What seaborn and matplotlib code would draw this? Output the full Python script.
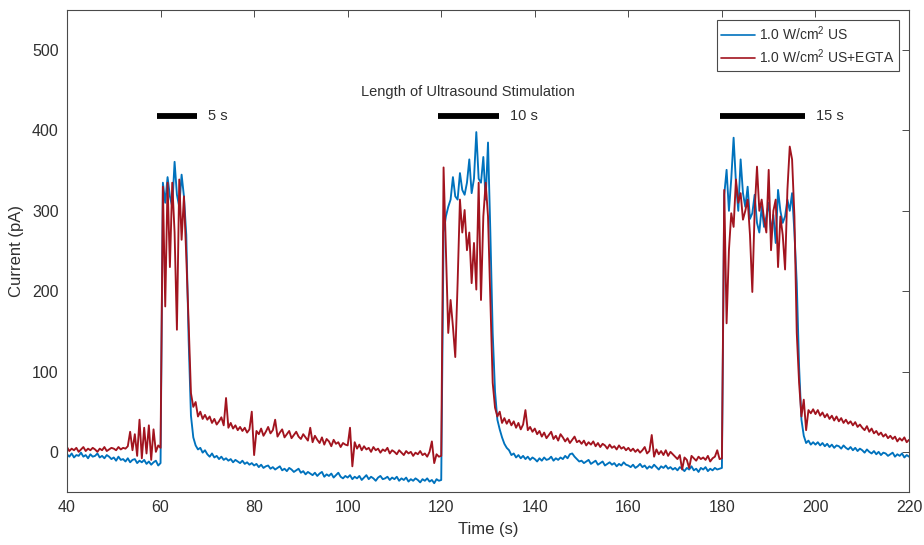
import numpy as np
import pandas as pd
import matplotlib
matplotlib.use("Agg")
import matplotlib.pyplot as plt
import seaborn as sns

# ---------------- data ----------------
time_s = np.round(np.arange(40, 220.001, 0.5), 1)

us = [
    -3, -6, -2, -7, -4, -5, -1, -6, -4, -8, -3, -6, -5, -2, -7, -5, -8, -4, -6, -9,
    -7, -11, -6, -10, -9, -12, -8, -13, -10, -9, -14, -11, -13, -10, -15, -12, -16, -13, -11, -17,
    -14, 335, 310, 342, 318, 305, 361, 320, 305, 345, 318, 270, 140, 45, 18, 8, 3, 5, -1, 2,
    -3, -6, -2, -7, -5, -9, -6, -10, -8, -11, -9, -13, -10, -12, -14, -11, -15, -13, -16, -14,
    -17, -15, -19, -16, -20, -18, -17, -21, -19, -22, -20, -18, -23, -21, -24, -20, -22, -25, -23, -21,
    -26, -24, -28, -25, -27, -29, -26, -30, -27, -25, -31, -28, -30, -27, -32, -29, -26, -31, -33, -30,
    -32, -29, -34, -31, -33, -30, -35, -32, -29, -34, -31, -33, -36, -32, -30, -34, -33, -31, -35, -32,
    -34, -31, -36, -33, -35, -32, -37, -34, -36, -33, -35, -38, -34, -36, -33, -37, -35, -39, -34, -36,
    -35, 273, 293, 305, 314, 342, 318, 314, 347, 326, 320, 335, 364, 322, 340, 398, 340, 335, 367, 314,
    385, 273, 148, 75, 40, 28, 18, 10, 5, 2, -4, -2, -7, -4, -8, -5, -9, -6, -10, -7,
    -9, -12, -8, -11, -7, -10, -9, -6, -11, -8, -10, -7, -9, -5, -8, -3, -2, -6, -9, -12,
    -11, -14, -12, -10, -15, -13, -11, -16, -14, -12, -17, -15, -13, -16, -14, -18, -15, -17, -13, -16,
    -17, -19, -16, -20, -18, -15, -19, -17, -21, -18, -20, -16, -19, -22, -18, -20, -17, -21, -19, -22,
    -20, -23, -19, -21, -24, -20, -22, -18, -23, -21, -25, -20, -22, -19, -24, -21, -23, -20, -22, -21,
    -20, 320, 351, 300, 340, 391, 335, 300, 364, 322, 305, 330, 290, 297, 320, 285, 273, 305, 280, 293,
    310, 273, 295, 260, 326, 300, 285, 293, 314, 300, 322, 273, 210, 106, 40, 20, 11, 14, 9, 12,
    9, 12, 8, 11, 7, 10, 6, 9, 5, 8, 7, 4, 8, 5, 3, 6, 2, 5, 1, 4,
    2, -1, 3, 0, -2, 1, -3, 0, -4, -1, -2, -5, -3, -1, -6, -3, -5, -2, -7, -4,
    -6,
]

egta = [
    6, 1, 4, 2, 5, 0, 3, 6, 1, 4, 2, 5, 3, 0, 4, 2, 6, 1, 3, 5,
    4, 2, 6, 3, 5, 4, 7, 25, 2, 22, -5, 40, -8, 30, -2, 33, -10, 28, 0, 8,
    5, 330, 181, 335, 230, 335, 273, 152, 339, 264, 318, 243, 161, 73, 56, 62, 44, 50, 41, 46,
    40, 44, 36, 41, 34, 38, 43, 33, 67, 30, 36, 29, 33, 27, 31, 26, 30, 24, 28, 50,
    -4, 26, 22, 29, 20, 25, 31, 23, 27, 40, 19, 24, 28, 18, 22, 26, 17, 21, 25, 19,
    16, 22, 18, 14, 30, 12, 20, 15, 11, 18, 9, 16, 13, 7, 15, 10, 12, 6, 11, 9,
    8, 30, -18, 12, 4, 9, 2, 7, 3, 5, 0, 6, 2, 4, -1, 3, 1, 5, -2, 2,
    0, -3, 2, -1, -4, 1, -2, 0, -5, -1, -3, 1, -4, -2, -6, 0, 13, -14, -3, -6,
    -5, 354, 251, 148, 189, 156, 118, 210, 314, 273, 301, 251, 273, 210, 260, 202, 335, 189, 293, 335,
    293, 189, 86, 55, 44, 50, 36, 42, 35, 40, 33, 38, 30, 36, 28, 34, 52, 27, 31, 25,
    29, 22, 26, 19, 24, 17, 21, 25, 16, 20, 14, 22, 18, 13, 17, 11, 15, 19, 12, 14,
    10, 14, 8, 12, 9, 13, 7, 11, 6, 10, 8, 4, 9, 5, 7, 3, 8, 4, 6, 2,
    5, 1, 4, 0, 3, -1, 2, 6, -2, 1, 21, -6, 3, -3, 1, -4, 2, -5, 0, -3,
    -6, -9, -4, -22, -7, -10, -20, -5, -8, -11, -6, -9, -7, -10, -5, -12, -8, -6, 2, -9,
    -8, 326, 160, 251, 297, 280, 339, 310, 322, 289, 300, 314, 270, 199, 300, 355, 300, 314, 290, 273,
    351, 251, 300, 314, 230, 293, 270, 227, 326, 380, 364, 293, 148, 86, 44, 65, 27, 52, 48, 53,
    47, 52, 45, 49, 43, 47, 41, 45, 39, 44, 38, 42, 36, 40, 35, 38, 33, 37, 31, 34,
    30, 27, 32, 25, 29, 23, 26, 21, 24, 19, 22, 17, 20, 16, 19, 13, 17, 14, 18, 12,
    15,
]

series_labels = ["1.0 W/cm$^2$ US", "1.0 W/cm$^2$ US+EGTA"]
series_colors = ["#0072BD", "#A2141F"]

stim_start = [59.2, 119.3, 179.6]
stim_end = [67.8, 132.3, 197.8]
stim_labels = ["5 s", "10 s", "15 s"]
stim_title = "Length of Ultrasound Stimulation"

# ---------------- build long table ----------------
df = pd.DataFrame({
    "Time (s)": np.concatenate([time_s, time_s]),
    "Current (pA)": np.concatenate([np.array(us, float), np.array(egta, float)]),
    "series": [series_labels[0]] * len(us) + [series_labels[1]] * len(egta),
})

sns.set_theme(style="white")
plt.rcParams["font.family"] = ["Liberation Sans", "DejaVu Sans"]
plt.rcParams["mathtext.fontset"] = "custom"
plt.rcParams["mathtext.rm"] = "Liberation Sans"
plt.rcParams["mathtext.it"] = "Liberation Sans:italic"

fig = plt.figure(figsize=(9.24, 5.45), dpi=100)
ax = fig.add_axes([0.0725, 0.0972, 0.9113, 0.8845])

sns.lineplot(data=df, x="Time (s)", y="Current (pA)", hue="series",
             palette=series_colors, hue_order=series_labels,
             estimator=None, errorbar=None, sort=False,
             linewidth=1.35, ax=ax)

ax.set_xlim(40, 220)
ax.set_ylim(-50, 550)
ax.set_xticks(np.arange(40, 221, 20))
ax.set_yticks(np.arange(0, 501, 100))

frame_col = "#4a4a4a"
text_col = "#303030"
for sp in ax.spines.values():
    sp.set_visible(True)
    sp.set_color(frame_col)
    sp.set_linewidth(0.8)
ax.tick_params(direction="in", top=True, right=True, length=5, width=0.7,
               color=frame_col, labelcolor=text_col, labelsize=11.5, pad=6)
ax.set_xlabel("Time (s)", fontsize=12, color=text_col, labelpad=5)
ax.set_ylabel("Current (pA)", fontsize=12, color=text_col, labelpad=6)

# stimulation bars
y_bar = 418
for s, e, lab in zip(stim_start, stim_end, stim_labels):
    ax.plot([s, e], [y_bar, y_bar], color="black", linewidth=4.2,
            solid_capstyle="butt")
    ax.text(e + 2.3, y_bar, lab, ha="left", va="center", fontsize=10.5,
            color=text_col)
ax.text(125.7, 448, stim_title, ha="center", va="center", fontsize=10.5,
        color=text_col)

leg = ax.legend(loc="upper right", fontsize=10, frameon=True, fancybox=False,
                edgecolor=frame_col, framealpha=1, handlelength=2.4,
                handletextpad=0.3, borderaxespad=0.7, labelspacing=0.3,
                borderpad=0.35)
leg.get_frame().set_linewidth(0.8)
for t in leg.get_texts():
    t.set_color(text_col)
for line in leg.get_lines():
    line.set_linewidth(1.2)

fig.savefig("out.png", dpi=100)
